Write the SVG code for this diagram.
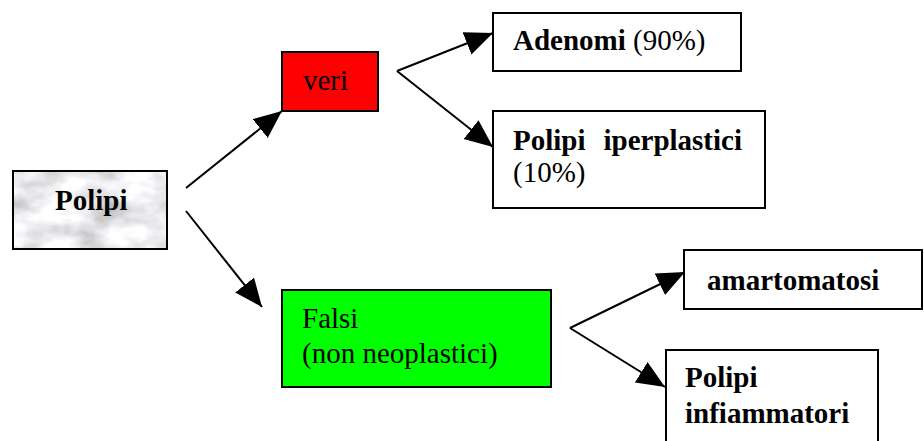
<svg xmlns="http://www.w3.org/2000/svg" width="924" height="441" viewBox="0 0 924 441">
  <style>
    .box { stroke: #000; stroke-width: 2; }
    .t { font-family: "Liberation Serif", "Times New Roman", serif; font-size: 29px; fill: #000; }
    .b { font-weight: bold; }
    .edge { stroke: #000; stroke-width: 2; fill: none; marker-end: url(#head); }
  </style>
  <defs>
    <marker id="head" markerUnits="userSpaceOnUse" markerWidth="30" markerHeight="26" refX="28" refY="12" orient="auto">
      <path d="M0,0 L28,12 L0,24 Z" fill="#000"/>
    </marker>
    <!-- grey marble fill for the root node -->
    <filter id="marble" x="0" y="0" width="1" height="1" filterUnits="objectBoundingBox">
      <feTurbulence type="fractalNoise" baseFrequency="0.025 0.04" numOctaves="4" seed="11"/>
      <feColorMatrix type="matrix" values="0.9 0 0 0 0.38  0.9 0 0 0 0.38  0.9 0 0 0 0.4  0 0 0 0 1"/>
    </filter>
  </defs>

  <rect width="924" height="441" fill="#fff"/>

  <g id="connectors">
    <line class="edge" x1="186" y1="188" x2="282" y2="111"/>
    <line class="edge" x1="186" y1="211" x2="262" y2="307"/>
    <line class="edge" x1="397" y1="71" x2="493" y2="33"/>
    <line class="edge" x1="397" y1="71" x2="493" y2="147"/>
    <line class="edge" x1="570" y1="328" x2="685" y2="272"/>
    <line class="edge" x1="570" y1="328" x2="665" y2="387"/>
  </g>

  <g id="polipi">
    <rect x="13" y="171" width="154" height="78" fill="#ddd" filter="url(#marble)"/>
    <rect class="box" x="13" y="171" width="154" height="78" fill="none"/>
    <text class="t b" x="55" y="210">Polipi</text>
  </g>

  <g id="veri">
    <rect class="box" x="282" y="52" width="96" height="59" fill="#ff0000"/>
    <text class="t" x="303" y="90">veri</text>
  </g>

  <g id="adenomi">
    <rect class="box" x="493" y="13" width="248" height="58" fill="#fff"/>
    <text class="t" x="513" y="50"><tspan class="b">Adenomi</tspan> (90%)</text>
  </g>

  <g id="iperplastici">
    <rect class="box" x="493" y="111" width="272" height="97" fill="#fff"/>
    <text class="t b" x="513" y="150">Polipi</text>
    <text class="t b" x="742" y="150" text-anchor="end">iperplastici</text>
    <text class="t" x="513" y="182">(10%)</text>
  </g>

  <g id="falsi">
    <rect class="box" x="282" y="290" width="269" height="97" fill="#00ff00"/>
    <text class="t" x="302" y="328">Falsi</text>
    <text class="t" x="302" y="363">(non neoplastici)</text>
  </g>

  <g id="amartomatosi">
    <rect class="box" x="684" y="250" width="238" height="59" fill="#fff"/>
    <text class="t b" x="707" y="290">amartomatosi</text>
  </g>

  <g id="infiammatori">
    <rect class="box" x="666" y="350" width="212" height="100" fill="#fff"/>
    <text class="t b" x="685" y="387">Polipi</text>
    <text class="t b" x="685" y="423">infiammatori</text>
  </g>
</svg>
